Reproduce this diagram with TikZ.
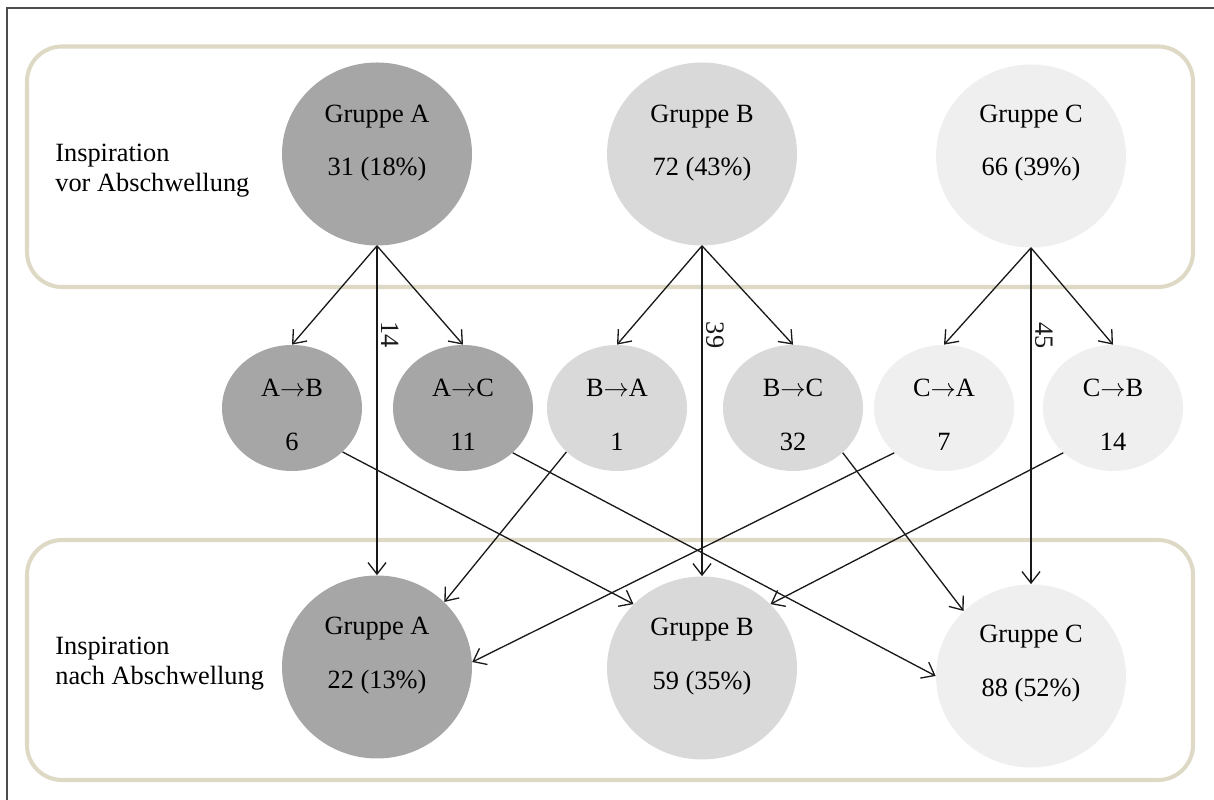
\documentclass[tikz,border=0pt]{standalone}
\usepackage{fontspec}
\setmainfont{Liberation Serif}
\usetikzlibrary{arrows.meta}
\usetikzlibrary{shapes.geometric}

\definecolor{grpA}{HTML}{A6A6A6}
\definecolor{grpB}{HTML}{D9D9D9}
\definecolor{grpC}{HTML}{EFEFEF}
\definecolor{rahmen}{HTML}{DDD9C4}

\begin{document}
\begin{tikzpicture}[
  gross/.style={ellipse,draw=none,minimum width=3.8cm,minimum height=3.66cm,inner sep=0pt},
  klein/.style={ellipse,draw=none,minimum width=2.8cm,minimum height=2.52cm,inner sep=0pt},
  wert/.style={align=center,font=\fontsize{15}{30.5}\selectfont,inner sep=0pt},
  seite/.style={align=left,anchor=west,font=\fontsize{15}{17}\selectfont,inner sep=0pt},
  pfeil/.style={-{Straight Barb[length=2.3mm,width=3.6mm]},line width=0.75pt,black!90},
  zahl/.style={font=\fontsize{15}{18}\selectfont,rotate=-90,anchor=south,inner sep=2pt},
  rahmenbox/.style={draw=rahmen,line width=2.3pt,rounded corners=0.7cm}
]
\useasboundingbox (0,0) rectangle (24.28,16);
\draw[black!70,line width=0.6pt] (0.14,0) -- (0.14,15.84) -- (24.28,15.84);

\draw[rahmenbox] (0.54,10.26) rectangle (23.86,15.07);
\draw[rahmenbox] (0.54,0.4) rectangle (23.86,5.2);

\node[seite] (vor) at (1.1,12.58) {Inspiration\\vor Abschwellung};
\node[seite] (nach) at (1.1,2.72) {Inspiration\\nach Abschwellung};

% vor Abschwellung
\node[gross,fill=grpA] (tA) at (7.54,12.92) {};
\node[gross,fill=grpB] (tB) at (14.04,12.92) {};
\node[gross,fill=grpC] (tC) at (20.62,12.88) {};
\node[wert] (tA-t) at (7.54,13.14) {Gruppe A\\31 (18\%)};
\node[wert] (tB-t) at (14.04,13.14) {Gruppe B\\72 (43\%)};
\node[wert] (tC-t) at (20.62,13.14) {Gruppe C\\66 (39\%)};

% Wechsel
\node[klein,fill=grpA] (ab) at (5.84,7.84) {};
\node[klein,fill=grpA] (ac) at (9.26,7.84) {};
\node[klein,fill=grpB] (ba) at (12.34,7.84) {};
\node[klein,fill=grpB] (bc) at (15.86,7.84) {};
\node[klein,fill=grpC] (ca) at (18.88,7.84) {};
\node[klein,fill=grpC] (cb) at (22.26,7.84) {};
\node[wert] (ab-t) at (5.84,7.7) {A$\rightarrow$B\\6};
\node[wert] (ac-t) at (9.26,7.7) {A$\rightarrow$C\\11};
\node[wert] (ba-t) at (12.34,7.7) {B$\rightarrow$A\\1};
\node[wert] (bc-t) at (15.86,7.7) {B$\rightarrow$C\\32};
\node[wert] (ca-t) at (18.88,7.7) {C$\rightarrow$A\\7};
\node[wert] (cb-t) at (22.26,7.7) {C$\rightarrow$B\\14};

% nach Abschwellung
\node[gross,fill=grpA] (bA) at (7.54,2.66) {};
\node[gross,fill=grpB] (bB) at (14.04,2.64) {};
\node[gross,fill=grpC] (bC) at (20.62,2.48) {};
\node[wert] (bA-t) at (7.54,2.89) {Gruppe A\\22 (13\%)};
\node[wert] (bB-t) at (14.04,2.87) {Gruppe B\\59 (35\%)};
\node[wert] (bC-t) at (20.62,2.73) {Gruppe C\\88 (52\%)};

\draw[pfeil] (tA.south) -- (ab.north);
\draw[pfeil] (tA.south) -- (ac.north);
\draw[pfeil] (tA.south) -- (bA.north) node[zahl,pos=0.27] (nA) {14};
\draw[pfeil] (tB.south) -- (ba.north);
\draw[pfeil] (tB.south) -- (bc.north);
\draw[pfeil] (tB.south) -- (bB.north) node[zahl,pos=0.27] (nB) {39};
\draw[pfeil] (tC.south) -- (ca.north);
\draw[pfeil] (tC.south) -- (cb.north);
\draw[pfeil] (tC.south) -- (bC.north) node[zahl,pos=0.26] (nC) {45};

\draw[pfeil] (ab.-41) -- (bB.137);
\draw[pfeil] (ac.-42) -- (bC.180);
\draw[pfeil] (ba.-139) -- (bA.44);
\draw[pfeil] (bc.-42) -- (bC.136);
\draw[pfeil] (ca.-138) -- (bA.3);
\draw[pfeil] (cb.-138) -- (bB.43);

\end{tikzpicture}
\end{document}
